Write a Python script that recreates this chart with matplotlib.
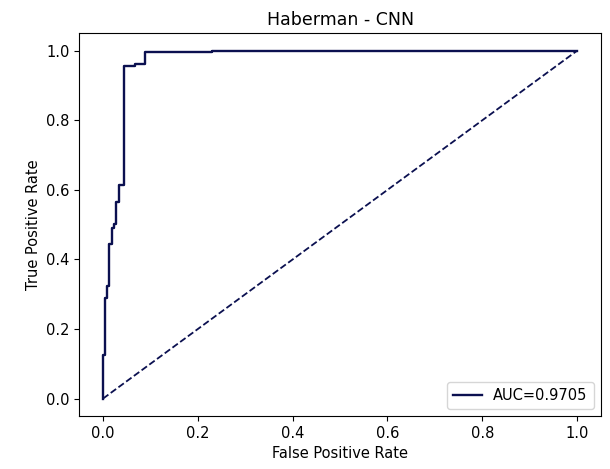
import matplotlib
matplotlib.use("Agg")
import matplotlib.pyplot as plt

# ROC points (step curve)
fpr = [0.0, 0.0, 0.004, 0.004, 0.008, 0.008, 0.012, 0.012, 0.019, 0.019,
       0.023, 0.023, 0.028, 0.028, 0.034, 0.034, 0.044, 0.044, 0.068, 0.068,
       0.089, 0.089, 0.23, 0.23, 1.0]
tpr = [0.0, 0.126, 0.126, 0.289, 0.289, 0.325, 0.325, 0.445, 0.445, 0.489,
       0.489, 0.503, 0.503, 0.564, 0.564, 0.614, 0.614, 0.955, 0.955, 0.962,
       0.962, 0.996, 0.996, 1.0, 1.0]
auc_label = "AUC=0.9705"
title = "Haberman - CNN"

plt.rcParams["font.size"] = 10.5

fig = plt.figure(figsize=(6.1, 4.69), dpi=100)
ax = fig.add_axes([0.130, 0.113, 0.855, 0.816])
ax.plot(fpr, tpr, color="#0b1050", lw=1.7, label=auc_label)
ax.plot([0, 1], [0, 1], color="#0b1050", lw=1.3, linestyle="--")
ax.set_title(title, fontsize=12.5)
ax.set_xlabel("False Positive Rate")
ax.set_ylabel("True Positive Rate")
ax.legend(loc="lower right")
fig.savefig("out.png", dpi=100)
